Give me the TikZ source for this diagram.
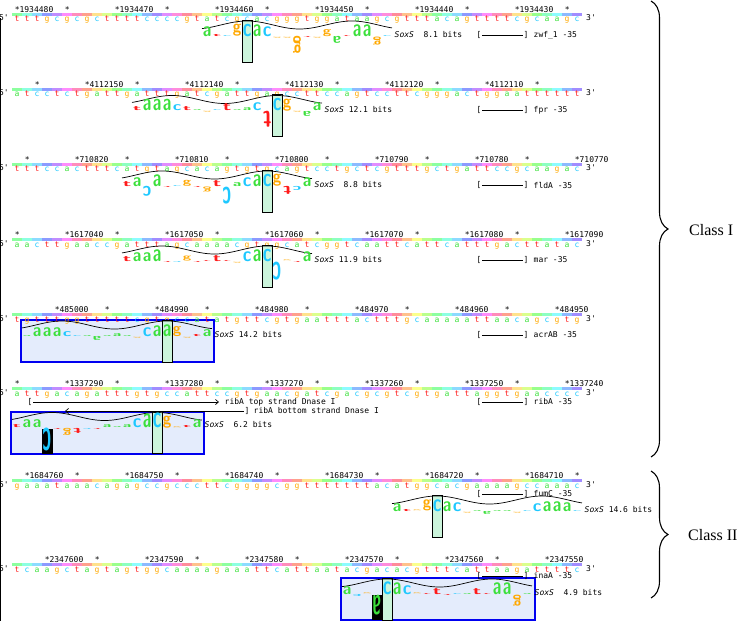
\documentclass[tikz,border=0pt]{standalone}
\usepackage{fontspec}
\usepackage{graphicx}
\usetikzlibrary{arrows.meta,decorations.pathreplacing}
\setmonofont{DejaVu Sans Mono}
\newfontfamily\classfont{Liberation Serif}
\definecolor{basea}{HTML}{3CE03C}
\definecolor{basec}{HTML}{1EC8FF}
\definecolor{baseg}{HTML}{FFA800}
\definecolor{baset}{HTML}{FF1A1A}
\definecolor{ZeroFill}{HTML}{CCF5DC}
\definecolor{SiteFill}{HTML}{E4ECFC}
\definecolor{SiteLine}{HTML}{0000F0}
\tikzset{
  nt/.style={anchor=base,inner sep=0pt,font=\ttfamily\fontsize{8}{8}\selectfont},
  num/.style={anchor=base west,inner sep=0pt,font=\ttfamily\fontsize{8}{8}\selectfont},
  lbl/.style={inner sep=0.5pt,font=\ttfamily\fontsize{8}{8}\selectfont},
  wl/.style={inner sep=0pt,font=\sffamily\bfseries},
  zerobox/.style={draw=black,fill=ZeroFill,line width=.8pt},
  sitebox/.style={draw=SiteLine,fill=SiteFill,line width=1.2pt},
  helix/.style={draw=black,line width=.7pt},
  classbrace/.style={decorate,decoration={brace,amplitude=17pt},line width=1.1pt},
  classlbl/.style={anchor=west,inner sep=0pt,font=\classfont\fontsize{16}{16}\selectfont}
}
% sequence with helix coloured bar; #1 = bar y, #2 = bases
\newcommand{\seqrow}[2]{%
  \foreach \bb [count=\ii from 0] in {#2} {
    \pgfmathsetmacro\hue{mod(130+34.3*\ii,360)}
    \definecolor{barc}{Hsb}{\hue,0.45,1}
    \fill[barc] ({12+10*\ii},#1-1.5) rectangle ++(10,3);
    \node[nt,text=base\bb] at ({17+10*\ii},#1+7.5) {\bb};
  }
  \node[nt] at (4,#1+6.5) {5'};
  \node[nt] at (591,#1+6.5) {3'};
}
% coordinate ticks; #1 = bar y, #2 = col/number, #3 = lone cols
\newcommand{\ticks}[3]{%
  \foreach \cc/\nn in {#2}
    \node[num] at ({14.6+10*\cc},#1-2) {*\nn};
  \foreach \cc in {#3}
    \node[num] at ({14.6+10*\cc},#1-2) {*};
}
% one walker letter; #1 = col, #2 = base, #3 = height, #4 = baseline y
\newcommand{\wlet}[4]{%
  \pgfmathsetmacro\wh{max(abs(#3),0.8)}
  \ifdim #3pt<0pt
    \node[wl,anchor=north,text=base#2] at ({17+10*#1},#4) {\rotatebox{180}{\resizebox*{8.5pt}{\wh pt}{#2}}};
  \else
    \node[wl,anchor=south,text=base#2] at ({17+10*#1},#4) {\resizebox*{8.5pt}{\wh pt}{#2}};
  \fi}
% walker; #1 = baseline y, #2 = zero col, #3 = first col, #4 = col/base/height
\newcommand{\walker}[4]{%
  \pgfmathsetmacro\wa{12+10*#3}
  \pgfmathsetmacro\wb{\wa+190}
  \pgfmathsetmacro\wz{17+10*#2}
  \filldraw[zerobox] (\wz-5,#1-16.5) rectangle (\wz+5,#1+25.5);
  \draw[helix] plot[domain=\wa:\wb,samples=80] (\x,{#1-11.5-4*cos((\x-\wz)*3.4286)});
  \foreach \cc/\bb/\hh in {#4} {\wlet{\cc}{\bb}{\hh}{#1}}
}
% -35 mark; #1 = name, #2 = y, #3 = text
\newcommand{\minusbox}[3]{%
  \node[lbl] (#1a) at (479,#2) {[};
  \node[lbl] (#1b) at (526,#2) {]};
  \draw[line width=.7pt] (#1a) -- (#1b);
  \node[lbl,anchor=west] (#1t) at (533,#2) {#3};
}
\begin{document}
\begin{tikzpicture}[x=1pt,y=-1pt]
\useasboundingbox (0,0) rectangle (738,621);
\draw[line width=1.3pt] (0.7,18) -- (0.7,621);

% zwf
\seqrow{14.2}{t,t,t,g,c,g,c,g,c,t,t,t,t,c,c,c,c,g,t,a,t,c,g,c,a,c,g,g,g,t,g,g,a,t,a,a,g,c,g,t,t,t,a,c,a,g,t,t,t,t,c,g,c,a,a,g,c}
\ticks{14.2}{0/1934480,10/1934470,20/1934460,30/1934450,40/1934440,50/1934430}{5,15,25,35,45,55}
\walker{36.5}{23}{19}{19/a/10,20/t/2,21/c/0.8,22/g/12,23/c/12.5,24/a/12,25/c/10,26/g/-0.8,27/g/-0.8,28/g/-17,29/t/-0.8,30/g/-0.8,31/g/7,32/a/-7,33/t/0.8,34/a/12,35/a/12,36/g/-8,37/c/0.8}
\node[lbl,anchor=west,inner sep=0pt] (s1) at (394.5,35) {\textit{SoxS}~~8.1 bits};
\minusbox{m1}{35}{zwf\_1 -35}

% fpr
\seqrow{89.3}{a,t,c,c,t,c,t,g,a,t,t,g,a,t,t,t,g,a,t,c,g,a,t,t,g,a,g,c,c,t,t,c,c,a,g,t,c,c,t,t,c,g,g,g,a,c,t,g,g,a,a,t,t,t,t,t,t}
\ticks{89.3}{7/4112150,17/4112140,27/4112130,37/4112120,47/4112110}{2,12,22,32,42,52}
\walker{111}{26}{12}{12/t/4,13/a/11.5,14/a/11.5,15/a/11.5,16/c/6,17/t/4,18/a/0.8,19/g/-0.8,20/c/0.8,21/t/7,22/a/0.8,23/a/3,24/c/8,25/t/-16,26/c/12.5,27/g/12,28/g/-0.8,29/a/-5,30/a/8}
\node[lbl,anchor=west,inner sep=0pt] (s2) at (324.5,110) {\textit{SoxS} 12.1 bits};
\minusbox{m2}{110}{fpr -35}

% fldA
\seqrow{164.4}{t,t,t,c,c,a,c,t,t,t,c,a,t,g,t,a,g,c,a,c,a,g,t,g,t,g,c,a,g,t,c,c,t,g,c,t,c,g,t,t,t,g,c,t,g,a,t,t,c,c,g,c,a,a,g,a,c}
\ticks{164.4}{6/710820,16/710810,26/710800,36/710790,46/710780,56/710770}{1,11,21,31,41,51}
\walker{186.5}{25}{11}{11/t/5,12/a/9,13/c/-10,14/a/12,15/t/-0.8,16/c/0.8,17/g/6,18/t/-0.8,19/g/-5,20/t/6,21/c/-17,22/a/4,23/c/9,24/a/12,25/c/12.5,26/g/12,27/t/-8,28/c/-4,29/a/9}
\node[lbl,anchor=west,inner sep=0pt] (s3) at (314.5,185) {\textit{SoxS}~~8.8 bits};
\minusbox{m3}{185}{fldA -35}

% mar
\seqrow{239.5}{a,a,c,t,t,g,a,a,c,c,g,a,t,t,t,a,g,c,a,a,a,a,c,g,t,g,g,c,a,t,c,g,g,t,c,a,a,t,t,c,a,t,t,c,a,t,t,t,g,a,c,t,t,a,t,a,c}
\ticks{239.5}{5/1617040,15/1617050,25/1617060,35/1617070,45/1617080,55/1617090}{0,10,20,30,40,50}
\walker{261.5}{25}{11}{11/t/5,12/a/9,13/a/9,14/a/12,15/t/-0.8,16/c/-0.8,17/g/5,18/t/-0.8,19/t/0.8,20/t/6,21/t/0.8,22/g/-0.8,23/c/10,24/a/12,25/c/12.5,26/c/-18,27/g/0.8,28/t/-0.8,29/a/10}
\node[lbl,anchor=west,inner sep=0pt] (s4) at (314.5,260) {\textit{SoxS} 11.9 bits};
\minusbox{m4}{260}{mar -35}

% acrAB
\filldraw[sitebox] (21,320) rectangle (214,362);
\seqrow{314.5}{t,g,t,t,t,g,g,t,t,t,t,t,c,g,t,g,c,c,a,t,a,t,g,t,t,c,g,t,g,a,a,t,t,t,a,c,t,t,t,g,c,a,a,a,a,a,t,t,a,a,c,a,g,c,g,t,g}
\ticks{314.5}{4/485000,14/484990,24/484980,34/484970,44/484960,54/484950}{9,19,29,39,49}
\walker{336.5}{15}{1}{1/a/0.8,2/a/9,3/a/9,4/a/9,5/c/5,6/c/0.8,7/a/0.8,8/a/-4,9/a/0.8,10/a/3,11/a/0.8,12/g/-0.8,13/c/9,14/a/11,15/a/12,16/g/10,17/g/-0.8,18/t/2,19/a/7}
\node[lbl,anchor=west,inner sep=0pt] (s5) at (214.5,335) {\textit{SoxS} 14.2 bits};
\minusbox{m5}{335}{acrAB -35}

% ribA
\filldraw[sitebox] (11,412) rectangle (204,454);
\seqrow{388.5}{a,t,t,g,a,c,a,g,a,t,t,t,g,t,g,c,c,a,t,t,c,c,g,t,g,a,a,c,g,a,t,c,g,a,c,g,c,g,t,c,g,t,g,a,t,t,a,g,g,t,g,a,a,c,c,c,c}
\ticks{388.5}{5/1337290,15/1337280,25/1337270,35/1337260,45/1337250,55/1337240}{0,10,20,30,40,50}
\fill[black] (42,429) rectangle (53,454);
\walker{428}{14}{0}{0/t/3,1/a/8,2/a/8,3/c/-23,4/t/-0.8,5/g/-7,6/t/-5,7/c/-0.8,8/t/-0.8,9/a/3,10/a/0.8,11/a/3,12/c/9,13/a/14,14/c/15,15/g/12,16/g/0.8,17/t/2,18/a/8}
\node[lbl,anchor=west,inner sep=0pt] (s6) at (204.5,425) {\textit{SoxS}~~6.2 bits};
\minusbox{m6}{402}{ribA -35}
\node[lbl] (ta) at (30,402) {[};
\coordinate (tb) at (219,402);
\draw[line width=.7pt,-{Straight Barb[length=3pt,width=5pt]}] (ta) -- (tb);
\node[lbl,anchor=west] (tt) at (224,402) {ribA top strand Dnase I};
\coordinate (ba) at (65,411);
\node[lbl] (bb) at (247,411) {]};
\draw[line width=.7pt,-{Straight Barb[length=3pt,width=5pt]}] (bb) -- (ba);
\node[lbl,anchor=west] (bt) at (253,411) {ribA bottom strand Dnase I};

% fumC
\seqrow{480.5}{g,a,a,a,t,a,a,a,c,a,g,a,g,c,c,g,c,c,c,t,t,c,g,g,g,g,c,g,g,t,t,t,t,t,t,t,a,c,a,t,g,g,c,a,c,g,a,a,a,a,g,c,c,a,a,a,c}
\ticks{480.5}{1/1684760,11/1684750,21/1684740,31/1684730,41/1684720,51/1684710}{6,16,26,36,46,56}
\minusbox{m7}{494}{fumC -35}
\walker{511.5}{42}{38}{38/a/8,39/t/2,40/g/0.8,41/g/11,42/c/12,43/a/10,44/c/9,45/g/-0.8,46/a/0.8,47/a/-3,48/a/0.8,49/a/0.8,50/g/-0.8,51/c/0.8,52/c/8,53/a/10,54/a/10,55/a/9,56/c/0.8}
\node[lbl,anchor=west,inner sep=0pt] (s7) at (584.5,510) {\textit{SoxS} 14.6 bits};

% inaA
\filldraw[sitebox] (341,578) rectangle (535,620);
\seqrow{564.5}{t,c,a,a,g,c,t,a,g,t,a,g,t,g,g,c,a,a,a,a,g,a,a,a,t,t,c,a,t,t,a,a,t,a,c,g,a,c,a,c,g,t,t,t,c,a,t,t,a,a,g,a,t,t,t,t,c}
\ticks{564.5}{3/2347600,13/2347590,23/2347580,33/2347570,43/2347560,53/2347550}{8,18,28,38,48}
\minusbox{m8}{576}{inaA -35}
\fill[black] (372,595) rectangle (382,620);
\walker{594.5}{37}{33}{33/a/8,34/c/-2,35/g/0.8,36/a/-20,37/c/13,38/a/12,39/c/9,40/g/0.8,41/t/0.8,42/t/6,43/t/-0.8,44/c/0.8,45/a/0.8,46/t/6,47/t/0.8,48/a/12,49/a/12,50/g/-11,51/a/0.8}
\node[lbl,anchor=west,inner sep=0pt] (s8) at (534.5,593) {\textit{SoxS}~~4.9 bits};

% classes
\draw[classbrace] (651,1) -- (651,457);
\node[classlbl] (c1) at (689,230) {Class I};
\draw[classbrace] (651,471) -- (651,598);
\node[classlbl] (c2) at (688,535) {Class II};
\end{tikzpicture}
\end{document}
